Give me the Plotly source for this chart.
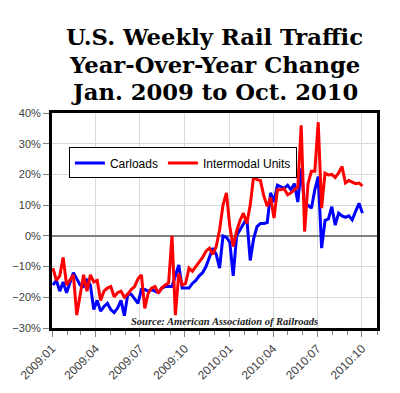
import plotly.graph_objects as go
import pandas as pd

weeks = pd.date_range("2009-01-03", periods=92, freq="7D")

carloads = [
    -16, -14.5, -18, -15, -18.5, -15, -12, -14, -16, -16.5,
    -14.5, -16, -24, -21, -24.5, -23, -22, -24, -25, -23.5,
    -21, -26, -19, -19, -20.5, -22, -17.5, -17.5, -18, -17.5,
    -18, -18.5, -17, -16.5, -16.5, -16.5, -13, -9.5, -17, -17,
    -17, -15.5, -14.5, -13, -12, -10, -7, -4, -6, -10.5,
    0, -0.5, -2, -13, 0, 2, 4, 5.8, -8, -1,
    3, 4, 4, 4.3, 14, 11, 16.5, 16, 15.5, 16.5,
    15, 17, 11, 22, 10, 10, 9, 15, 19.3, -4,
    5, 5.5, 9.5, 3.5, 7.4, 6.5, 6, 6.5, 5.2, 8,
    10.6, 7.4,
]

intermodal = [
    -10.5, -14.5, -13, -7, -16, -14.5, -12.7, -25.8, -18.5, -12.7,
    -18, -12.7, -15, -14.5, -21, -18, -17, -16.5, -19.8, -18.5,
    -18, -20, -19, -17.5, -16.5, -14, -12.7, -23.6, -18.7, -17,
    -16.5, -18.7, -17, -16, -15.4, 0, -25.8, -12.2, -16, -15.5,
    -10.5, -11.5, -10, -8.5, -7, -5, -4, -6, -3.5, 2,
    10, 14, 3, -3.5, 1.5, 5, 7.4, 4, 10, 19.3,
    18.3, 18, 13, 9.6, 12.5, 5.8, 15, 15, 15.3, 13.4,
    14, 15, 16, 36, 1.4, 17, 21, 21, 37, 9,
    20.4, 19.8, 20, 19, 20.5, 22.6, 17.2, 18, 17.5, 17,
    17.2, 16.3,
]

title_lines = ["U.S. Weekly Rail Traffic", "Year-Over-Year Change", "Jan. 2009 to Oct. 2010"]
source_text = "Source: American Association of Railroads"

fig = go.Figure()
fig.add_trace(go.Scatter(x=weeks, y=carloads, mode="lines", name="Carloads",
                         line=dict(color="#0000FF", width=3)))
fig.add_trace(go.Scatter(x=weeks, y=intermodal, mode="lines", name="Intermodal Units",
                         line=dict(color="#FF0000", width=3)))

axis_font = dict(family="Liberation Sans, Arial", size=11, color="#404040")

fig.update_layout(
    width=400, height=393,
    margin=dict(l=52, r=23, t=113, b=65),
    paper_bgcolor="white", plot_bgcolor="white",
    showlegend=True,
    legend=dict(orientation="h", x=0.052, y=0.84, xanchor="left", yanchor="top",
                bgcolor="white", bordercolor="black", borderwidth=1,
                font=dict(family="Liberation Sans, Arial", size=12, color="black"),
                itemwidth=30, tracegroupgap=0),
    xaxis=dict(
        type="date", range=["2009-01-01", "2010-11-01"], automargin=False,
        tick0="2009-01-01", dtick="M3", tickformat="%Y:%m", tickangle=-45,
        ticks="outside", ticklen=6, tickcolor="#808080",
        tickfont=dict(family="Liberation Sans, Arial", size=12, color="#404040"),
        showgrid=True, gridcolor="#d9d9d9", gridwidth=1,
        minor=dict(dtick="M1", tick0="2009-01-01", ticks="outside", ticklen=4,
                   tickcolor="#808080", showgrid=False),
        showline=True, linecolor="black", linewidth=3, mirror=True,
        zeroline=False,
    ),
    yaxis=dict(
        range=[-30, 40], dtick=10, ticksuffix="%", automargin=False,
        ticks="outside", ticklen=6, tickcolor="#808080",
        tickfont=axis_font,
        showgrid=True, gridcolor="#d9d9d9", gridwidth=1,
        zeroline=True, zerolinecolor="#808080", zerolinewidth=2,
        showline=True, linecolor="black", linewidth=3, mirror=True,
    ),
)

title_y = [37, 65, 92]
for txt, yp in zip(title_lines, title_y):
    fig.add_annotation(text="<b>%s</b>" % txt, xref="paper", yref="paper",
                       x=0.5, y=(328 - yp) / 215, xanchor="center", yanchor="middle",
                       showarrow=False,
                       font=dict(family="DejaVu Serif, Georgia, serif", size=22.7, color="black"))

fig.add_annotation(text="<b><i>%s</i></b>" % source_text, xref="paper", yref="paper",
                   x=0.532, y=(328 - 321) / 215, xanchor="center", yanchor="middle",
                   showarrow=False,
                   font=dict(family="Liberation Serif, Georgia, serif", size=10.5, color="#222222"))

fig.write_html("out.html", config={"displayModeBar": False},
               post_script="document.body.style.margin='0px';")
